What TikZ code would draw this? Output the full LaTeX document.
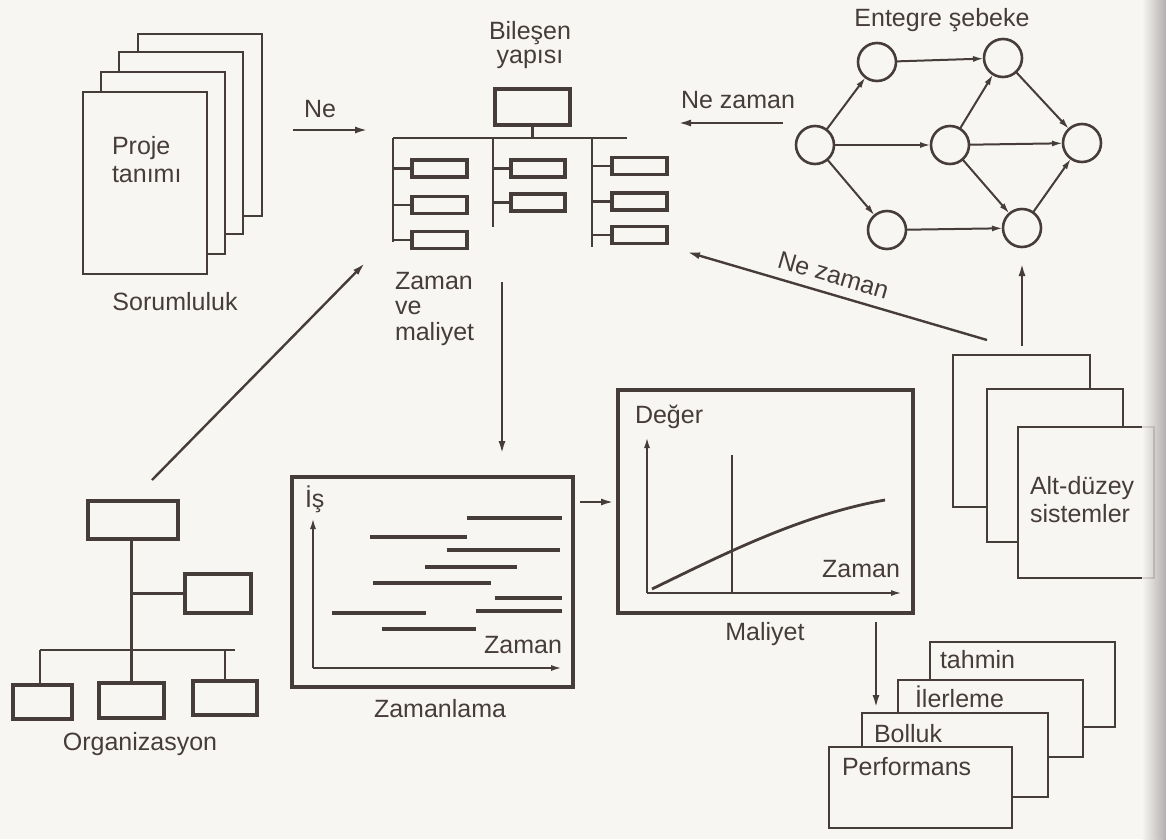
\documentclass[tikz,border=0pt]{standalone}
\usepackage{fontspec}
\setmainfont{Liberation Sans}
\usetikzlibrary{arrows.meta}
\definecolor{ink}{RGB}{70,60,58}
\definecolor{paper}{RGB}{248,246,243}
\definecolor{edge}{RGB}{168,162,162}
\begin{document}
\begin{tikzpicture}[x=1pt,y=-1pt,
  font=\fontsize{25}{27}\selectfont,
  txt/.style={text=ink,inner sep=0pt,outer sep=0pt},
  bx/.style 2 args={draw=ink,line width=3.2pt,fill=paper,rectangle,inner sep=0pt,outer sep=0pt,minimum width=#1,minimum height=#2},
  page/.style 2 args={bx={#1}{#2},line width=2.8pt},
  circ/.style={draw=ink,line width=2.6pt,circle,minimum size=38pt,inner sep=0pt,outer sep=0pt,fill=paper},
  ln/.style={draw=ink,line width=2.2pt},
  bar/.style={draw=ink,line width=3.2pt},
  arr/.style={draw=ink,line width=2.4pt,-{Latex[length=13pt,width=7pt]}},
  narr/.style={draw=ink,line width=2pt,-{Latex[length=11pt,width=6pt]}}
]
\useasboundingbox (0,0) rectangle (1176,839);
\fill[paper] (0,0) rectangle (1176,839);

% ---------- Proje tanimi ----------
\node[page={124}{182}] (p4) at (200,125) {};
\node[page={124}{182}] (p3) at (181,143) {};
\node[page={124}{182}] (p2) at (163,163) {};
\node[page={124}{182}] (p1) at (145,183) {};
\node[txt,anchor=base west] (proje) at (112,154) {Proje};
\node[txt,anchor=base west] (tanimi) at (112,182) {tanımı};
\node[txt,anchor=base] (sorum) at (175,310) {Sorumluluk};

% Ne arrow
\node[txt,anchor=base] (ne) at (320,117) {Ne};
\coordinate (neA) at (293,130);
\coordinate (neB) at (368,130);
\draw[arr] (neA) -- (neB);

% ---------- Bilesen yapisi ----------
\node[txt,anchor=base] (bil1) at (530,39) {Bileşen};
\node[txt,anchor=base] (bil2) at (530,63) {yapısı};
\node[bx={75}{36}] (wtop) at (532.5,107) {};
\coordinate (bus1) at (393,138);
\coordinate (bus2) at (493,138);
\coordinate (bus3) at (592,138);
\coordinate (busE) at (627,138);
\coordinate (b1e) at (393,242);
\coordinate (b2e) at (493,227);
\coordinate (b3e) at (592,247);
\draw[ln] (wtop.south) -- (wtop.south |- bus1);
\draw[ln] (bus1) -- (busE);
\draw[ln] (bus1) -- (b1e);
\draw[ln] (bus2) -- (b2e);
\draw[ln] (bus3) -- (b3e);
\node[bx={55}{17}] (w11) at (439.5,168.5) {};
\node[bx={55}{17}] (w12) at (439.5,205) {};
\node[bx={55}{17}] (w13) at (439.5,240) {};
\node[bx={54}{17}] (w21) at (538,168.5) {};
\node[bx={54}{17}] (w22) at (538,202.5) {};
\node[bx={55}{17}] (w31) at (639.5,166) {};
\node[bx={55}{17}] (w32) at (639.5,201.5) {};
\node[bx={55}{17}] (w33) at (639.5,235) {};
\foreach \n in {w11,w12,w13}{\draw[ln] (\n.west) -- (\n.west -| bus1);}
\foreach \n in {w21,w22}{\draw[ln] (\n.west) -- (\n.west -| bus2);}
\foreach \n in {w31,w32,w33}{\draw[ln] (\n.west) -- (\n.west -| bus3);}

\node[txt,anchor=base west] (zm1) at (395,289) {Zaman};
\node[txt,anchor=base west] (zm2) at (395,314) {ve};
\node[txt,anchor=base west] (zm3) at (395,340) {maliyet};
\coordinate (zvA) at (502,282);
\coordinate (zvB) at (502,454);
\draw[arr] (zvA) -- (zvB);

% ---------- Entegre sebeke ----------
\node[txt,anchor=base] (ent) at (942,26) {Entegre şebeke};
\node[circ] (A) at (815,145) {};
\node[circ] (B) at (877,62) {};
\node[circ] (C) at (1003,58) {};
\node[circ] (D) at (950,145) {};
\node[circ] (E) at (887,230) {};
\node[circ] (F) at (1022,228) {};
\node[circ] (G) at (1082,143) {};
\draw[narr] (A) -- (B);
\draw[narr] (A) -- (D);
\draw[narr] (A) -- (E);
\draw[narr] (B) -- (C);
\draw[narr] (D) -- (C);
\draw[narr] (D) -- (G);
\draw[narr] (D) -- (F);
\draw[narr] (E) -- (F);
\draw[narr] (C) -- (G);
\draw[narr] (F) -- (G);

\node[txt,anchor=base] (nz1) at (738,108) {Ne zaman};
\coordinate (nzA) at (783,123);
\coordinate (nzB) at (678,123);
\draw[arr] (nzA) -- (nzB);

\node[txt,anchor=base,rotate=-16.3] (nz2) at (831,283) {Ne zaman};
\coordinate (nzC) at (987,340);
\coordinate (nzD) at (687,252);
\draw[arr] (nzC) -- (nzD);

% ---------- Alt-duzey sistemler ----------
\node[page={137}{152}] (alt3) at (1021.5,431) {};
\node[page={136}{153}] (alt2) at (1055,465.5) {};
\node[page={136}{151}] (alt1) at (1086,502.5) {};
\node[txt,anchor=base west] (alt) at (1030,494) {Alt-düzey};
\node[txt,anchor=base west] (sis) at (1030,522) {sistemler};
\coordinate (upA) at (1022,346);
\coordinate (upB) at (1022,263);
\draw[arr] (upA) -- (upB);

% ---------- Zamanlama ----------
\node[bx={281}{210}] (zl) at (432.5,582) {};
\coordinate (zo) at (313,668);
\coordinate (zy) at (313,518);
\coordinate (zx) at (562,668);
\draw[narr] (zo) -- (zy);
\draw[narr] (zo) -- (zx);
\draw[bar] (467,518) -- (562,518);
\draw[bar] (370,537) -- (467,537);
\draw[bar] (447,550) -- (560,550);
\draw[bar] (425,567) -- (517,567);
\draw[bar] (373,583) -- (491,583);
\draw[bar] (495,598) -- (562,598);
\draw[bar] (332,613) -- (426,613);
\draw[bar] (476,611) -- (562,611);
\draw[bar] (382,629) -- (476,629);
\node[txt,anchor=base west] (is) at (305,507) {İş};
\node[txt,anchor=base east] (zz1) at (562,653) {Zaman};
\node[txt,anchor=base] (zlm) at (440,717) {Zamanlama};

\coordinate (zdA) at (580,502);
\coordinate (zdB) at (614,502);
\draw[arr] (zdA) -- (zdB);

% ---------- Deger / Maliyet ----------
\node[bx={295}{223}] (dg) at (765.5,501.5) {};
\coordinate (dO) at (647,593);
\coordinate (dY) at (647,437);
\coordinate (dX) at (902,593);
\draw[narr] (dO) -- (dY);
\draw[narr] (dO) -- (dX);
\draw[ln] (732,455) -- (732,593);
\draw[draw=ink,line width=2.8pt] (652,589) .. controls (720,556) and (800,515) .. (885,500);
\node[txt,anchor=base west] (deg) at (635,423) {Değer};
\node[txt,anchor=base east] (zz2) at (900,577) {Zaman};
\node[txt,anchor=base] (mal) at (765,640) {Maliyet};
\coordinate (mA) at (876,622);
\coordinate (mB) at (876,708);
\draw[arr] (mA) -- (mB);

% ---------- Reports ----------
\node[page={185}{85}] (r4) at (1022.5,684.5) {};
\node[page={185}{77}] (r3) at (990.5,718.5) {};
\node[page={186}{84}] (r2) at (955,755) {};
\node[page={183}{81}] (r1) at (920.5,787.5) {};
\node[txt,anchor=base west] (tah) at (940,668) {tahmin};
\node[txt,anchor=base west] (ile) at (915,707) {İlerleme};
\node[txt,anchor=base west] (bol) at (874,742) {Bolluk};
\node[txt,anchor=base west] (per) at (842,775) {Performans};

% ---------- Organizasyon ----------
\node[bx={90}{38}] (o0) at (133,520) {};
\node[bx={66}{39}] (oR) at (218,593.5) {};
\node[bx={59}{34}] (o1) at (42.5,702) {};
\node[bx={65}{35}] (o2) at (131.5,700.5) {};
\node[bx={64}{34}] (o3) at (225,698) {};
\coordinate (obL) at (40,650);
\coordinate (obR) at (235,650);
\draw[ln] (o0.south -| o2.north) -- (o2.north);
\draw[ln] (oR.west) -- (oR.west -| o2.north);
\draw[ln] (obL) -- (obR);
\draw[ln] (o1.north -| obL) -- (obL);
\draw[ln] (o3.north) -- (o3.north |- obL);
\node[txt,anchor=base] (org) at (140,750) {Organizasyon};
\coordinate (orA) at (152,480);
\coordinate (orB) at (365,263);
\draw[arr] (orA) -- (orB);

% page edge
\shade[left color=paper,right color=edge,opacity=0.85] (1142,0) rectangle (1166,839);
\fill[white] (1166,0) rectangle (1176,839);
\end{tikzpicture}
\end{document}
